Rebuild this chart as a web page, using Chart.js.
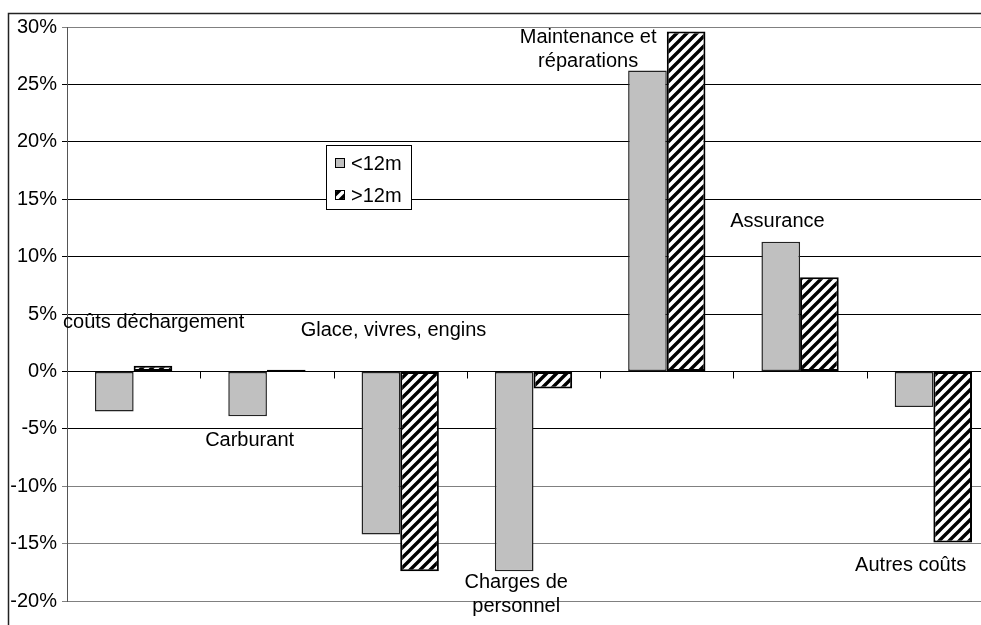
<!DOCTYPE html>
<html lang="fr">
<head>
<meta charset="utf-8">
<script src="https://cdn.jsdelivr.net/npm/chart.js@4.4.1/dist/chart.umd.min.js"></script>
<style>
  html, body { margin: 0; padding: 0; background: #fff; overflow: hidden; }
  canvas { display: block; }
</style>
</head>
<body>
<canvas id="chart" width="1040" height="660"></canvas>
<script>
const categories = [
  'coûts déchargement',
  'Carburant',
  'Glace, vivres, engins',
  ['Charges de', 'personnel'],
  ['Maintenance et', 'réparations'],
  'Assurance',
  'Autres coûts',
];
const seriesNames = ['<12m', '>12m'];
const under12m = [-3.5, -3.9, -14.2, -17.4, 26.2, 11.3, -3.1];
const over12m = [0.5, 0.15, -17.4, -1.5, 29.6, 8.2, -14.9];
const yMin = -20;
const yMax = 30;
const yStep = 5;

// where each category name sits: shift in category widths, height in %
const labelSpots = [[0.15, 4.3], [-0.13, -6.0], [-0.05, 3.6], [-0.13, -18.4], [-0.59, 29.1], [-0.17, 13.1], [-0.17, -16.9]];
const fadedLines = [30, -10, -15, -20];
const FONT = '20px "Liberation Sans", Arial, sans-serif';

Chart.defaults.font.family = '"Liberation Sans", Arial, sans-serif';
Chart.defaults.font.size = 20;
Chart.defaults.color = '#000';

function hatch() {
  const s = 10;
  const c = document.createElement('canvas');
  c.width = s;
  c.height = s;
  const g = c.getContext('2d');
  g.fillStyle = '#fff';
  g.fillRect(0, 0, s, s);
  g.strokeStyle = '#000';
  g.lineWidth = 3.4;
  g.beginPath();
  for (const o of [-s, 0, s]) {
    g.moveTo(o - 2, s + 2);
    g.lineTo(o + s + 2, -2);
  }
  g.stroke();
  return g.createPattern(c, 'repeat');
}
const stripes = hatch();

const decorations = {
  id: 'decorations',
  beforeDraw(chart) {
    const ctx = chart.ctx;
    ctx.save();
    ctx.strokeStyle = '#222';
    ctx.lineWidth = 1.5;
    ctx.strokeRect(8.5, 13.5, 2000, 2000);
    ctx.restore();
  },
  afterDatasetsDraw(chart) {
    const { ctx, scales: { x, y } } = chart;
    const band = (x.right - x.left) / categories.length;
    ctx.save();

    // little ticks between categories on the zero line
    ctx.strokeStyle = '#000';
    ctx.lineWidth = 1;
    const y0 = Math.round(y.getPixelForValue(0)) + 0.5;
    for (let i = 1; i < categories.length; i++) {
      const px = Math.round(x.left + i * band) + 0.5;
      ctx.beginPath();
      ctx.moveTo(px, y0);
      ctx.lineTo(px, y0 + 7);
      ctx.stroke();
    }

    // category names written inside the plot
    ctx.font = FONT;
    ctx.fillStyle = '#000';
    ctx.textAlign = 'center';
    ctx.textBaseline = 'middle';
    categories.forEach((name, i) => {
      const [dx, v] = labelSpots[i];
      const cx = x.getPixelForValue(i) + dx * band;
      const cy = y.getPixelForValue(v);
      [].concat(name).forEach((line, k) => ctx.fillText(line, cx, cy + k * 24));
    });

    // legend box
    const bx = 326.5, by = 145.5;
    ctx.fillStyle = '#fff';
    ctx.fillRect(bx, by, 85, 64);
    ctx.strokeStyle = '#000';
    ctx.strokeRect(bx, by, 85, 64);
    chart.data.datasets.forEach((ds, i) => {
      const cy = 163 + i * 32;
      ctx.fillStyle = ds.backgroundColor;
      ctx.fillRect(335, cy - 5, 10, 10);
      ctx.strokeStyle = '#000';
      ctx.strokeRect(335.5, cy - 4.5, 9, 9);
      ctx.fillStyle = '#000';
      ctx.textAlign = 'left';
      ctx.fillText(ds.label, 351, cy + 1);
    });
    ctx.restore();
  },
};

new Chart(document.getElementById('chart'), {
  type: 'bar',
  data: {
    labels: categories,
    datasets: [
      { label: seriesNames[0], data: under12m, backgroundColor: '#C0C0C0', borderColor: '#222', borderWidth: 1.5 },
      { label: seriesNames[1], data: over12m, backgroundColor: stripes, borderColor: '#000', borderWidth: 2 },
    ],
  },
  options: {
    responsive: false,
    animation: false,
    layout: { padding: { left: 0, top: 27, right: 40, bottom: 59 } },
    datasets: { bar: { categoryPercentage: 0.58, barPercentage: 1, borderSkipped: false } },
    plugins: { legend: { display: false }, tooltip: { enabled: false } },
    scales: {
      x: { display: false },
      y: {
        min: yMin,
        max: yMax,
        afterFit: (scale) => { scale.width = 67; },
        ticks: { stepSize: yStep, padding: 5, font: { size: 20 }, callback: (v) => v + '%' },
        grid: {
          tickLength: 5,
          lineWidth: 1,
          color: (c) => (fadedLines.includes(c.tick.value) ? '#808080' : '#000'),
        },
        border: { color: '#555', width: 1 },
      },
    },
  },
  plugins: [decorations],
});
</script>
</body>
</html>
